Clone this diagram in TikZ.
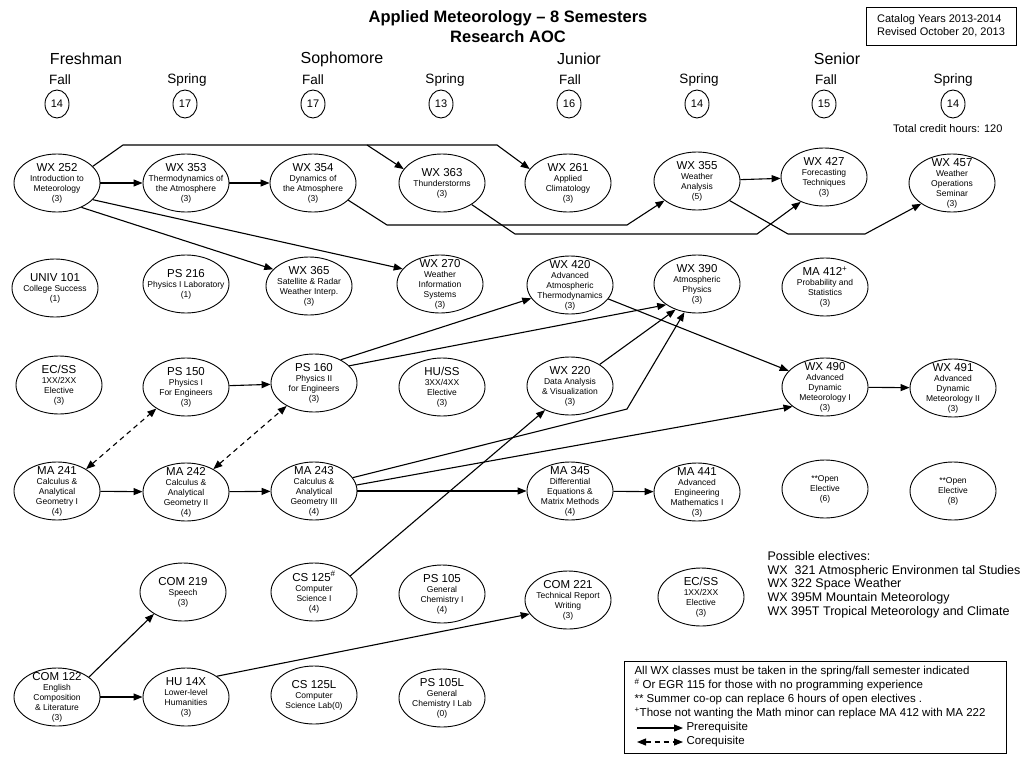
\documentclass[tikz,border=0pt]{standalone}
\usepackage{fontspec}
\setmainfont{Liberation Sans}
\usetikzlibrary{shapes.geometric,arrows.meta}
\newcommand\ctitle[1]{{\fontsize{11.5}{13}\selectfont #1}}
\tikzset{
  course/.style={ellipse, draw, line width=0.9pt, minimum width=86, minimum height=58,
    inner xsep=-10pt, inner ysep=-8pt, align=center, font=\fontsize{8.5}{10}\selectfont},
  semcirc/.style={ellipse, draw, line width=0.9pt, minimum width=24, minimum height=28,
    inner sep=0pt, font=\fontsize{11}{12}\selectfont},
  yearlab/.style={font=\fontsize{16}{18}\selectfont},
  termlab/.style={font=\fontsize{13.5}{15}\selectfont},
  prereq/.style={line width=1.1pt, -{Triangle[length=9pt,width=7pt]}},
  coreq/.style={line width=1.1pt, dash pattern=on 5pt off 4pt,
    {Triangle[length=9pt,width=7pt]}-{Triangle[length=9pt,width=7pt]}},
}
\begin{document}
\begin{tikzpicture}[x=1pt, y=-1pt]
\useasboundingbox (0,0) rectangle (1024,768);

% heading
\node[font=\bfseries\fontsize{16.5}{18}\selectfont] (title1) at (508,18) {Applied Meteorology – 8 Semesters};
\node[font=\bfseries\fontsize{16.5}{18}\selectfont] (title2) at (508,37) {Research AOC};
\node[draw, line width=0.8pt, align=left, minimum width=150, minimum height=38, font=\fontsize{11}{13}\selectfont] (catalog) at (941,26) {Catalog Years 2013-2014\\Revised October 20, 2013};

\node[yearlab] (fresh) at (86,59) {Freshman};
\node[yearlab] (soph)  at (342,59) {Sophomore};
\node[yearlab] (jun)   at (579,59) {Junior};
\node[yearlab] (sen)   at (837,59) {Senior};

\node[termlab] (t1) at (60,80)  {Fall};
\node[termlab] (t2) at (187,80) {Spring};
\node[termlab] (t3) at (313,80) {Fall};
\node[termlab] (t4) at (445,80) {Spring};
\node[termlab] (t5) at (570,80) {Fall};
\node[termlab] (t6) at (699,80) {Spring};
\node[termlab] (t7) at (826,80) {Fall};
\node[termlab] (t8) at (953,80) {Spring};

\node[semcirc] (h1) at (57,104)  {14};
\node[semcirc] (h2) at (185,104) {17};
\node[semcirc] (h3) at (313,104) {17};
\node[semcirc] (h4) at (441,104) {13};
\node[semcirc] (h5) at (569,104) {16};
\node[semcirc] (h6) at (697,104) {14};
\node[semcirc] (h7) at (824,104) {15};
\node[semcirc] (h8) at (953,104) {14};
\node[anchor=east, font=\fontsize{11}{13}\selectfont] (total) at (1006,129) {Total credit hours: 120};

% row 1
\node[course] (wx252) at (57,183)  {\ctitle{WX 252}\\Introduction to\\Meteorology\\(3)};
\node[course] (wx353) at (186,183) {\ctitle{WX 353}\\Thermodynamics of\\the Atmosphere\\(3)};
\node[course] (wx354) at (313,183) {\ctitle{WX 354}\\Dynamics of\\the Atmosphere\\(3)};
\node[course] (wx363) at (442,183) {\ctitle{WX 363}\\Thunderstorms\\(3)};
\node[course] (wx261) at (568,183) {\ctitle{WX 261}\\Applied\\Climatology\\(3)};
\node[course] (wx355) at (697,181) {\ctitle{WX 355}\\Weather\\Analysis\\(5)};
\node[course] (wx427) at (824,177) {\ctitle{WX 427}\\Forecasting\\Techniques\\(3)};
\node[course] (wx457) at (952,183) {\ctitle{WX 457}\\Weather\\Operations\\Seminar\\(3)};

% row 2
\node[course] (univ101) at (55,288)  {\ctitle{UNIV 101}\\College Success\\(1)};
\node[course] (ps216)   at (186,284) {\ctitle{PS 216}\\Physics I Laboratory\\(1)};
\node[course] (wx365)   at (309,286) {\ctitle{WX 365}\\Satellite \& Radar\\Weather Interp.\\(3)};
\node[course] (wx270)   at (440,284) {\ctitle{WX 270}\\Weather\\Information\\Systems\\(3)};
\node[course] (wx420)   at (570,285) {\ctitle{WX 420}\\Advanced\\Atmospheric\\Thermodynamics\\(3)};
\node[course] (wx390)   at (697,284) {\ctitle{WX 390}\\Atmospheric\\Physics\\(3)};
\node[course] (ma412)   at (825,287) {\ctitle{MA 412\textsuperscript{+}}\\Probability and\\Statistics\\(3)};

% row 3
\node[course] (ecss1) at (59,385)  {\ctitle{EC/SS}\\1XX/2XX\\Elective\\(3)};
\node[course] (ps150) at (186,387) {\ctitle{PS 150}\\Physics I\\For Engineers\\(3)};
\node[course] (ps160) at (314,383) {\ctitle{PS 160}\\Physics II\\for Engineers\\(3)};
\node[course] (huss)  at (442,387) {\ctitle{HU/SS}\\3XX/4XX\\Elective\\(3)};
\node[course] (wx220) at (570,386) {\ctitle{WX 220}\\Data Analysis\\\& Visualization\\(3)};
\node[course] (wx490) at (825,387) {\ctitle{WX 490}\\Advanced\\Dynamic\\Meteorology I\\(3)};
\node[course] (wx491) at (953,388) {\ctitle{WX 491}\\Advanced\\Dynamic\\Meteorology II\\(3)};

% row 4
\node[course] (ma241) at (57,491)  {\ctitle{MA 241}\\Calculus \&\\Analytical\\Geometry I\\(4)};
\node[course] (ma242) at (186,492) {\ctitle{MA 242}\\Calculus \&\\Analytical\\Geometry II\\(4)};
\node[course] (ma243) at (314,491) {\ctitle{MA 243}\\Calculus \&\\Analytical\\Geometry III\\(4)};
\node[course] (ma345) at (570,491) {\ctitle{MA 345}\\Differential\\Equations \&\\Matrix Methods\\(4)};
\node[course] (ma441) at (697,492) {\ctitle{MA 441}\\Advanced\\Engineering\\Mathematics I\\(3)};
\node[course] (open6) at (825,489) {**Open\\Elective\\(6)};
\node[course] (open8) at (953,491) {**Open\\Elective\\(8)};

% row 5
\node[course] (com219) at (183,592) {\ctitle{COM 219}\\Speech\\(3)};
\node[course] (cs125)  at (314,592) {\ctitle{CS 125\textsuperscript{\#}}\\Computer\\Science I\\(4)};
\node[course] (ps105)  at (442,594) {\ctitle{PS 105}\\General\\Chemistry I\\(4)};
\node[course] (com221) at (568,600) {\ctitle{COM 221}\\Technical Report\\Writing\\(3)};
\node[course] (ecss2)  at (701,597) {\ctitle{EC/SS}\\1XX/2XX\\Elective\\(3)};

% row 6
\node[course] (com122) at (57,697)  {\ctitle{COM 122}\\English\\Composition\\\& Literature\\(3)};
\node[course] (hu14x)  at (186,697) {\ctitle{HU 14X}\\Lower-level\\Humanities\\(3)};
\node[course] (cs125l) at (314,695) {\ctitle{CS 125L}\\Computer\\Science Lab(0)};
\node[course] (ps105l) at (442,698) {\ctitle{PS 105L}\\General\\Chemistry I Lab\\(0)};

% prerequisites
\draw[prereq] (wx252) -- (wx353);
\draw[prereq] (wx353) -- (wx354);
\coordinate (topsplit) at (367,145);
\draw[prereq] (wx252.25) -- (123,145) -- (497,145) -- (wx261.160);
\draw[prereq] (topsplit) -- (wx363.160);
\draw[prereq] (wx354.-26) -- (387,225) -- (627,225) -- (wx355.211);
\draw[prereq] (wx363.-36) -- (515,234) -- (757,234) -- (wx427.227);
\draw[prereq] (wx355.-31) -- (788,234) -- (865,234) -- (wx457.214);
\draw[prereq] (wx355) -- (wx427);
\draw[prereq] (wx252.-45) -- (wx365.155);
\draw[prereq] (wx252.-25) -- (wx270.158);

\draw[prereq] (ps160.41) -- (wx420.199);
\draw[prereq] (ps160.26) -- (wx390.214);
\draw[prereq] (wx420.-20) -- (wx490.156);
\draw[prereq] (wx220.36) -- (wx390.230);
\draw[prereq] (ma243.19) -- (627,409) -- (wx390.246);
\draw[prereq] (ma243.8) -- (wx490.211);
\draw[prereq] (cs125.24) -- (wx220.224);
\draw[prereq] (wx490) -- (wx491);
\draw[prereq] (ps150) -- (ps160);

\draw[prereq] (ma241) -- (ma242);
\draw[prereq] (ma242) -- (ma243);
\draw[prereq] (ma243) -- (ma345);
\draw[prereq] (ma345) -- (ma441);

\draw[prereq] (com122.32) -- (com219.217);
\draw[prereq] (com122) -- (hu14x);
\draw[prereq] (hu14x.34) -- (com221.200);

% corequisites
\draw[coreq] (ma241.37) -- (ps150.216);
\draw[coreq] (ma242.40) -- (ps160.220);

% electives
\node[anchor=north west, align=left, font=\fontsize{12.5}{13.6}\selectfont] (electives) at (764,548)
  {Possible electives:\\WX~~321 Atmospheric Environmen tal Studies\\WX 322 Space Weather\\WX 395M Mountain Meteorology\\WX 395T Tropical Meteorology and Climate};

% legend
\node[draw, line width=0.8pt, anchor=north west, minimum width=382, minimum height=92, inner sep=0pt] (legend) at (624,661) {};
\node[anchor=north west, align=left, font=\fontsize{11.5}{14}\selectfont] (notes) at (631,663)
  {All WX classes must be taken in the spring/fall semester indicated\\\textsuperscript{\#} Or EGR 115 for those with no programming experience\\** Summer co-op can replace 6 hours of open electives .\\\textsuperscript{+}Those not wanting the Math minor can replace MA 412 with MA 222};
\node[anchor=west, font=\fontsize{11.5}{14}\selectfont] (prelab) at (683,728) {Prerequisite};
\node[anchor=west, font=\fontsize{11.5}{14}\selectfont] (corelab) at (683,742) {Corequisite};
\coordinate (prestart) at (637,728);
\coordinate (corestart) at (637,742);
\draw[prereq] (prestart) -- (prelab.west);
\draw[coreq] (corestart) -- (corelab.west);
\end{tikzpicture}
\end{document}
